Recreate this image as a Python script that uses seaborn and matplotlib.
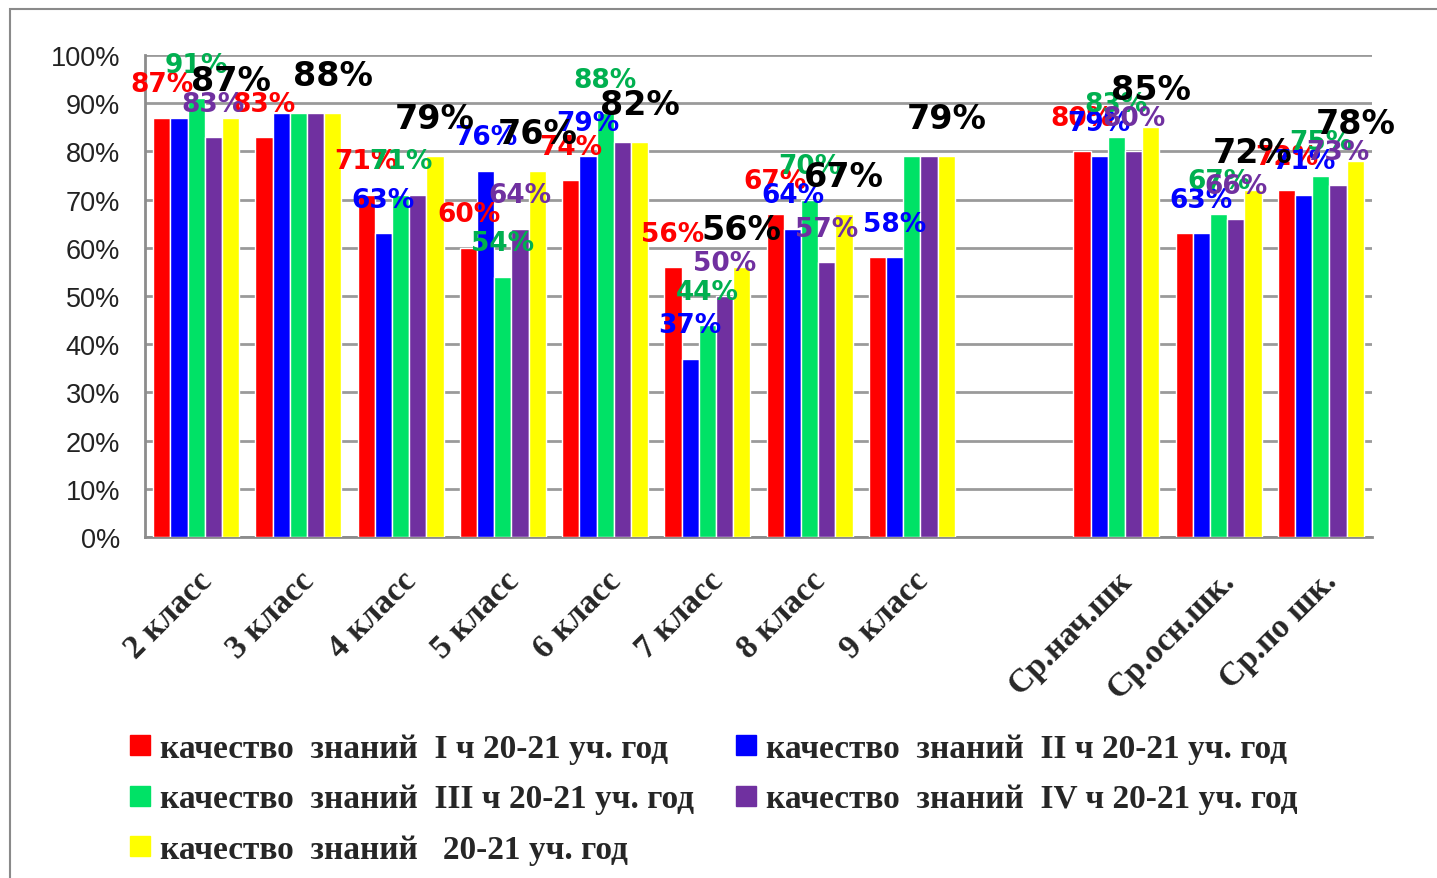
import numpy as np
import pandas as pd
import matplotlib
matplotlib.use("Agg")
import matplotlib.pyplot as plt
import seaborn as sns
from matplotlib.lines import Line2D
from matplotlib.patches import Rectangle

nan = np.nan
categories = ["2 класс", "3 класс", "4 класс", "5 класс", "6 класс", "7 класс",
              "8 класс", "9 класс", " ", "Ср.нач.шк", "Ср.осн.шк.", "Ср.по шк."]
series = ["качество  знаний  I ч 20-21 уч. год",
          "качество  знаний  II ч 20-21 уч. год",
          "качество  знаний  III ч 20-21 уч. год",
          "качество  знаний  IV ч 20-21 уч. год",
          "качество  знаний   20-21 уч. год"]
q1 = [87, 83, 71, 60, 74, 56, 67, 58, nan, 80, 63, 72]
q2 = [87, 88, 63, 76, 79, 37, 64, 58, nan, 79, 63, 71]
q3 = [91, 88, 71, 54, 88, 44, 70, 79, nan, 83, 67, 75]
q4 = [83, 88, 71, 64, 82, 50, 57, 79, nan, 80, 66, 73]
year = [87, 88, 79, 76, 82, 56, 67, 79, nan, 85, 72, 78]
yticks = [0, 10, 20, 30, 40, 50, 60, 70, 80, 90, 100]
# labels not shown in the original: (series index, category index)
hidden = {(1, 0), (1, 1), (2, 1), (3, 1), (3, 2), (3, 4), (0, 7), (2, 7), (3, 7), (0, 10)}

bar_colors = ["#FF0000", "#0000FF", "#00E266", "#7030A0", "#FFFF00"]
label_colors = ["#FF0000", "#0000FF", "#00B050", "#7030A0", "#000000"]

rows = []
for s, vals in zip(series, [q1, q2, q3, q4, year]):
    for c, v in zip(categories, vals):
        rows.append({"cat": c, "series": s, "value": v})
df = pd.DataFrame(rows)

sns.set_style("white")
fig = plt.figure(figsize=(14.37, 8.79), dpi=100)
ax = fig.add_axes([145 / 1437, 1 - 538 / 879, (1372 - 145) / 1437, (538 - 56) / 879])

sns.barplot(data=df, x="cat", y="value", hue="series", order=categories,
            hue_order=series, palette=bar_colors, width=0.84, saturation=1,
            errorbar=None, ax=ax, legend=False, zorder=3)

ax.set_ylim(0, 100)
ax.set_xlim(-0.5, len(categories) - 0.5)
ax.set_yticks(yticks)
ax.set_yticklabels([f"{t}%" for t in yticks], fontsize=19.5, family="Liberation Sans", color="#222222")
ax.yaxis.grid(True, color="#9a9a9a", linewidth=2, zorder=0)
ax.set_axisbelow(True)
for sp in ["top", "right"]:
    ax.spines[sp].set_visible(False)
for sp in ["left", "bottom"]:
    ax.spines[sp].set_color("#8c8c8c")
    ax.spines[sp].set_linewidth(2)
ax.tick_params(axis="y", length=7, width=1.5, color="#8c8c8c", pad=11)

# x ticks: labels at centers, marks at boundaries
ax.set_xticks(range(len(categories)))
ax.set_xticklabels(categories, rotation=45, ha="right", rotation_mode="anchor",
                   fontsize=24, family="Liberation Serif", fontweight="bold")
ax.tick_params(axis="x", length=0, pad=20)
ax.set_xticks(np.arange(len(categories) + 1) - 0.5, minor=True)
ax.tick_params(axis="x", which="minor", length=9, width=1.5, color="#8c8c8c")
ax.set_xlabel("")
ax.set_ylabel("")

# data labels
for j, cont in enumerate(ax.containers):
    for bar in cont:
        h = bar.get_height()
        if h is None or np.isnan(h):
            continue
        cx = bar.get_x() + bar.get_width() / 2
        ci = int(round(cx))
        if (j, ci) in hidden:
            continue
        big = j == 4
        ax.annotate(f"{int(round(h))}%", (cx, h), xytext=(0, 27 if big else 24),
                    textcoords="offset points", ha="center", va="center",
                    fontsize=24 if big else 19, fontweight="bold",
                    family="DejaVu Sans", color=label_colors[j], zorder=5,
                    annotation_clip=False)

# legend, filled row by row as in the original
order = [0, 2, 4, 1, 3]
handles = [Line2D([], [], marker="s", linestyle="none", markersize=14,
                  markerfacecolor=c, markeredgecolor=c) for c in bar_colors]
fig.legend([handles[i] for i in order], [series[i] for i in order],
           loc="upper left", bbox_to_anchor=(102 / 1437, 1 - 704 / 879),
           ncol=2, frameon=False, handlelength=0.5, handletextpad=0.35,
           columnspacing=1.3, labelspacing=0.58,
           prop={"family": "Liberation Serif", "weight": "bold", "size": 24})

# outer frame
fig.add_artist(Rectangle((10 / 1437, -0.1), 1.2, 1 - 10 / 879 + 0.1, transform=fig.transFigure,
                         fill=False, edgecolor="#8a8a8a", linewidth=1.5))

fig.savefig("out.png", dpi=100)
